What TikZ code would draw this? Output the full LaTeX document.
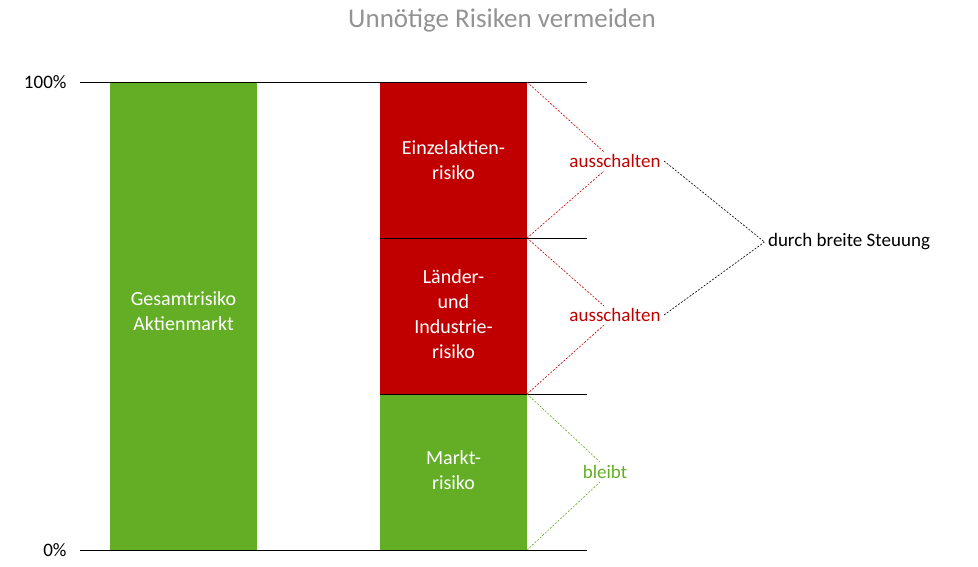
\documentclass[tikz,border=0pt]{standalone}
\usepackage{fontspec}
\setmainfont{Carlito}
\definecolor{gr}{HTML}{63AE25}
\definecolor{rd}{HTML}{C00000}
\begin{document}
\begin{tikzpicture}[x=1pt,y=-1pt,
  bar/.style={inner sep=0,minimum width=147pt,text=white,align=center,font=\fontsize{20}{25}\selectfont},
  lbl/.style={font=\fontsize{19}{23}\selectfont},
  dl/.style={dashed,dash pattern=on 2pt off 1.5pt,line width=0.6pt}]
\useasboundingbox (0,0) rectangle (978,566);
\node[font=\fontsize{27}{32}\selectfont,text=gray!85] (t) at (502,20) {Unnötige Risiken vermeiden};
\fill[gr] (110,82) rectangle (257,550);
\node[bar] (g) at (183.5,311) {Gesamtrisiko\\Aktienmarkt};
\fill[rd] (380,82) rectangle (527,238);
\fill[rd] (380,238) rectangle (527,394);
\fill[gr] (380,394) rectangle (527,550);
\node[bar] (e) at (453.5,160) {Einzelaktien-\\risiko};
\node[bar] (l) at (453.5,314) {Länder-\\und\\Industrie-\\risiko};
\node[bar] (m) at (453.5,470) {Markt-\\risiko};
\foreach \y in {82,550} \draw[line width=0.8pt] (80,\y) -- (587,\y);
\foreach \y in {238,394} \draw[line width=0.8pt] (380,\y) -- (587,\y);
\node[lbl,anchor=east] (p100) at (70,82) {100\%};
\node[lbl,anchor=east] (p0) at (70,550) {0\%};
\coordinate (c1) at (527,82); \coordinate (c2) at (527,238);
\coordinate (c3) at (527,394); \coordinate (c4) at (527,550);
\node[lbl,text=rd] (a1) at (615,161) {ausschalten};
\node[lbl,text=rd] (a2) at (615,315) {ausschalten};
\node[lbl,text=gr] (b) at (605,472) {bleibt};
\node[lbl] (d) at (849,242) {durch breite Steuung};
\draw[dl,rd] (c1) -- (604,152); \draw[dl,rd] (c2) -- (604,171);
\draw[dl,rd] (c2) -- (604,306); \draw[dl,rd] (c3) -- (604,325);
\draw[dl,gr] (c3) -- (600,462); \draw[dl,gr] (c4) -- (600,482);
\draw[dl] (a1.east) -- (d.west); \draw[dl] (a2.east) -- (d.west);
\end{tikzpicture}
\end{document}
